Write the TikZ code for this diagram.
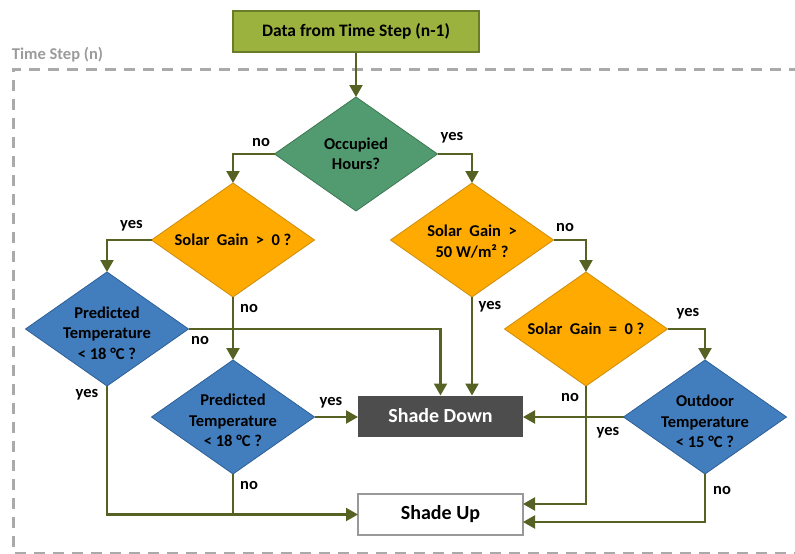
\documentclass[tikz,border=0pt]{standalone}
\usepackage{fontspec}
\setmainfont{Carlito}
\usetikzlibrary{arrows.meta,shapes.geometric}

\definecolor{topfill}{RGB}{155,178,62}
\definecolor{topline}{RGB}{105,125,40}
\definecolor{occfill}{RGB}{82,155,112}
\definecolor{occline}{RGB}{60,120,82}
\definecolor{orfill}{RGB}{255,170,0}
\definecolor{orline}{RGB}{205,140,10}
\definecolor{blfill}{RGB}{66,126,190}
\definecolor{blline}{RGB}{45,95,150}
\definecolor{downfill}{RGB}{77,77,77}
\definecolor{conn}{RGB}{85,98,35}
\definecolor{framegray}{RGB}{170,170,170}
\definecolor{labelgray}{RGB}{155,155,155}

\tikzset{
  txt/.style={font=\fontsize{16.5}{20.5}\selectfont\bfseries, align=center, inner sep=0pt},
  decision/.style={diamond, draw, line width=0.8pt, minimum width=163pt, minimum height=114pt, inner sep=0pt, outer sep=0pt},
  orangedec/.style={decision, fill=orfill, draw=orline},
  bluedec/.style={decision, fill=blfill, draw=blline},
  greendec/.style={decision, fill=occfill, draw=occline},
  actbox/.style={rectangle, minimum width=165pt, minimum height=41pt, inner sep=0pt, outer sep=0pt, line width=1.2pt,
                 font=\fontsize{20}{24}\selectfont\bfseries},
  link/.style={draw=conn, line width=2.2pt},
  arr/.style={link, -{Triangle[length=12pt,width=13pt]}},
  ans/.style={txt, text=black},
}

\begin{document}
\begin{tikzpicture}[x=1pt,y=-1pt]
\useasboundingbox (0,0) rectangle (795,554);
\clip (0,0) rectangle (795,554);

% time step frame
\draw[framegray, line width=3pt, dash pattern=on 11pt off 8pt]
  (800,69) -- (13,69) -- (13,553) -- (800,553);
\node[txt, text=labelgray] (steplabel) at (57.5,55) {Time Step (n)};

% input from the previous step
\node[rectangle, minimum width=246pt, minimum height=41pt, fill=topfill, draw=topline,
      line width=1.2pt, inner sep=0pt, font=\fontsize{17.5}{21}\selectfont\bfseries]
      (prev) at (356,31.5) {Data from Time Step (n-1)};

% decisions
\node[greendec] (occ) at (356,154) {};
\node[txt] at (356,154) {Occupied\\Hours?};

\node[orangedec] (sgpos) at (233,240) {};
\node[txt] at (233,240) {Solar~ Gain~ >~ 0 ?};

\node[orangedec] (sgfifty) at (472,240) {};
\node[txt] at (472,241.5) {Solar~ Gain~ >\\50 W/m² ?};

\node[bluedec] (ptleft) at (107,329) {};
\node[txt] at (107,333) {Predicted\\Temperature\\< 18 °C ?};

\node[orangedec] (sgzero) at (586,329) {};
\node[txt] at (586,329) {Solar~ Gain~ =~ 0 ?};

\node[bluedec] (ptmid) at (233,417) {};
\node[txt] at (233,420.5) {Predicted\\Temperature\\< 18 °C ?};

\node[bluedec] (outd) at (705,417) {};
\node[txt] at (705,421.5) {Outdoor\\Temperature\\< 15 °C ?};

% actions
\node[actbox, fill=downfill, text=white] (down) at (440.5,416) {Shade Down};
\node[actbox, fill=white, draw=gray!80] (up) at (440.5,514.5) {Shade Up};

% connectors
\draw[arr] (prev.south) -- (occ.north);
\draw[arr] (occ.west) -| (sgpos.north);
\draw[arr] (occ.east) -| (sgfifty.north);
\draw[arr] (sgpos.west) -| (ptleft.north);
\draw[arr] (sgpos.south) -- (ptmid.north);
\draw[arr] (sgfifty.east) -| (sgzero.north);
\draw[arr] (sgfifty.south) -- (sgfifty.south |- down.north);
\draw[arr] (ptleft.east) -| (down.north);
\draw[arr] (ptleft.south) |- (up.west);
\draw[arr] (ptmid.east) -- (ptmid.east -| down.west);
\draw[link] (ptmid.south) -- (ptmid.south |- up.west);
\draw[arr] (sgzero.east) -| (outd.north);
\coordinate (upupper) at ([yshift=10.5pt]up.east);
\coordinate (uplower) at ([yshift=-7.5pt]up.east);
\draw[arr] (sgzero.south) |- (upupper);
\draw[arr] (outd.west) -- (outd.west -| down.east);
\draw[arr] (outd.south) |- (uplower);

% branch answers
\node[ans] at (261,142) {no};
\node[ans] at (452,138) {yes};
\node[ans] at (131.5,226) {yes};
\node[ans] at (249,308) {no};
\node[ans] at (200,340) {no};
\node[ans] at (87,395) {yes};
\node[ans] at (331,403) {yes};
\node[ans] at (249,485) {no};
\node[ans] at (565,227) {no};
\node[ans] at (490,307) {yes};
\node[ans] at (688,314) {yes};
\node[ans] at (570,397) {no};
\node[ans] at (608,433) {yes};
\node[ans] at (722,490) {no};
\end{tikzpicture}
\end{document}
